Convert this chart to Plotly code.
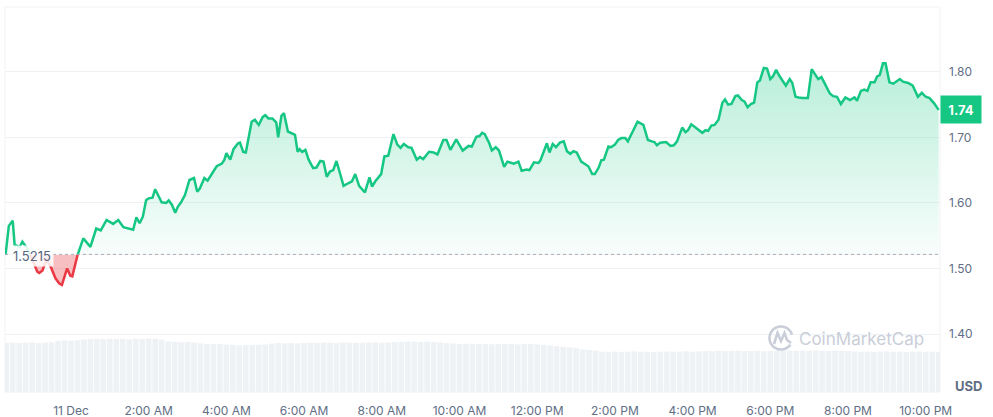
import math
import pandas as pd
import plotly.graph_objects as go

# ---------------- data ----------------
BASE = 1.5215  # opening (reference) price, dotted line

TIMES_DEC10 = ["22:19", "22:24", "22:30", "22:33", "22:41", "22:45", "22:54", "23:01", "23:08", "23:11",
               "23:16", "23:22", "23:29", "23:36", "23:42", "23:46", "23:51", "23:54", "23:59"]
TIMES_DEC11 = [
    "00:02", "00:10", "00:19", "00:30", "00:39", "00:46", "00:55", "01:05", "01:13", "01:21",
    "01:31", "01:36", "01:41", "01:46", "01:51", "01:56", "02:00", "02:06", "02:10", "02:20",
    "02:27", "02:31", "02:36", "02:41", "02:45", "02:50", "02:56", "03:03", "03:10", "03:15",
    "03:19", "03:26", "03:31", "03:37", "03:45", "03:53", "03:57", "04:00", "04:06", "04:11",
    "04:18", "04:21", "04:26", "04:30", "04:39", "04:44", "04:50", "04:56", "05:00", "05:05",
    "05:11", "05:17", "05:20", "05:25", "05:29", "05:35", "05:43", "05:46", "05:50", "05:53",
    "05:57", "06:02", "06:07", "06:14", "06:19", "06:25", "06:30", "06:35", "06:40", "06:45",
    "06:50", "07:01", "07:08", "07:14", "07:19", "07:25", "07:34", "07:41", "07:45", "07:50",
    "07:59", "08:04", "08:10", "08:18", "08:24", "08:29", "08:34", "08:41", "08:46", "08:54",
    "08:59", "09:04", "09:13", "09:20", "09:26", "09:35", "09:40", "09:46", "09:55", "10:05",
    "10:14", "10:19", "10:26", "10:31", "10:35", "10:39", "10:46", "10:50", "10:56", "11:01",
    "11:09", "11:14", "11:24", "11:31", "11:36", "11:44", "11:48", "11:55", "12:02", "12:05",
    "12:15", "12:19", "12:24", "12:29", "12:35", "12:41", "12:46", "12:51", "12:56", "13:01",
    "13:08", "13:19", "13:25", "13:29", "13:35", "13:39", "13:43", "13:50", "13:54", "14:00",
    "14:05", "14:10", "14:16", "14:20", "14:26", "14:35", "14:44", "14:51", "14:57", "15:01",
    "15:05", "15:10", "15:19", "15:26", "15:31", "15:36", "15:44", "15:49", "15:53", "15:58",
    "16:06", "16:15", "16:20", "16:24", "16:29", "16:34", "16:40", "16:46", "16:50", "16:55",
    "17:00", "17:06", "17:10", "17:16", "17:20", "17:25", "17:30", "17:35", "17:40", "17:44",
    "17:50", "17:55", "18:00", "18:04", "18:09", "18:14", "18:24", "18:30", "18:34", "18:39",
    "18:44", "18:50", "18:58", "19:04", "19:10", "19:14", "19:19", "19:26", "19:32", "19:37",
    "19:43", "19:49", "19:56", "20:03", "20:10", "20:14", "20:20", "20:25", "20:30", "20:35",
    "20:41", "20:45", "20:49", "20:54", "20:58", "21:04", "21:10", "21:20", "21:25", "21:33",
    "21:40", "21:48", "21:54", "22:00", "22:06", "22:13", "22:20"]

PRICES_DEC10 = [1.521, 1.565, 1.573, 1.536, 1.533, 1.541, 1.528, 1.510, 1.495, 1.493,
                1.497, 1.514, 1.502, 1.485, 1.477, 1.475, 1.490, 1.500, 1.489]
PRICES_DEC11 = [
    1.488, 1.520, 1.546, 1.533, 1.561, 1.558, 1.574, 1.568, 1.574, 1.563,
    1.561, 1.559, 1.578, 1.569, 1.579, 1.604, 1.607, 1.608, 1.621, 1.601,
    1.600, 1.604, 1.597, 1.585, 1.594, 1.601, 1.612, 1.635, 1.638, 1.617,
    1.622, 1.638, 1.634, 1.643, 1.656, 1.660, 1.666, 1.676, 1.666, 1.682,
    1.691, 1.692, 1.678, 1.677, 1.724, 1.727, 1.719, 1.731, 1.734, 1.729,
    1.729, 1.723, 1.700, 1.733, 1.737, 1.709, 1.706, 1.704, 1.678, 1.682,
    1.678, 1.681, 1.666, 1.653, 1.654, 1.664, 1.663, 1.640, 1.648, 1.650,
    1.664, 1.626, 1.630, 1.633, 1.644, 1.626, 1.616, 1.639, 1.625, 1.633,
    1.644, 1.671, 1.672, 1.705, 1.689, 1.684, 1.690, 1.685, 1.684, 1.666,
    1.670, 1.667, 1.678, 1.677, 1.674, 1.696, 1.696, 1.681, 1.697, 1.680,
    1.687, 1.686, 1.701, 1.702, 1.707, 1.705, 1.691, 1.680, 1.685, 1.680,
    1.655, 1.663, 1.660, 1.663, 1.649, 1.651, 1.650, 1.662, 1.661, 1.665,
    1.691, 1.677, 1.690, 1.685, 1.692, 1.694, 1.679, 1.675, 1.679, 1.677,
    1.663, 1.656, 1.644, 1.644, 1.654, 1.665, 1.666, 1.686, 1.685, 1.689,
    1.696, 1.699, 1.699, 1.694, 1.706, 1.724, 1.719, 1.696, 1.694, 1.693,
    1.688, 1.692, 1.693, 1.687, 1.688, 1.694, 1.715, 1.708, 1.711, 1.720,
    1.714, 1.707, 1.711, 1.710, 1.718, 1.719, 1.727, 1.753, 1.758, 1.750,
    1.751, 1.763, 1.764, 1.757, 1.755, 1.746, 1.751, 1.753, 1.784, 1.787,
    1.806, 1.805, 1.789, 1.793, 1.803, 1.794, 1.779, 1.789, 1.783, 1.762,
    1.761, 1.760, 1.760, 1.804, 1.795, 1.789, 1.792, 1.778, 1.767, 1.763,
    1.762, 1.751, 1.761, 1.757, 1.761, 1.756, 1.771, 1.773, 1.771, 1.784,
    1.784, 1.793, 1.795, 1.813, 1.813, 1.784, 1.782, 1.789, 1.785, 1.783,
    1.779, 1.762, 1.768, 1.762, 1.760, 1.752, 1.742]

VOL_START = "2024-12-10 22:20"
VOLUMES = [
    49.2, 49.5, 49.0, 49.3, 49.6, 49.1, 49.4, 49.8,
    51.0, 51.6, 51.3, 51.8,
    52.6, 52.9, 53.1, 52.8, 53.3, 53.0, 53.2, 52.7, 53.4, 53.1, 53.6, 53.3, 52.4,
    50.6, 50.2, 49.8, 50.1, 49.5,
    48.6, 48.1, 47.9, 48.2, 47.6,
    47.2, 46.8, 47.0, 46.9, 47.3, 47.6,
    48.4, 48.9, 48.6, 49.0, 48.7,
    49.1, 49.4, 49.2, 49.5, 49.3, 49.0, 49.6, 49.4, 49.1, 49.3, 49.5, 49.7, 49.2, 49.4, 49.9,
    50.2, 50.5, 50.3, 50.0, 50.4, 50.1, 49.6, 49.0,
    48.4, 48.1, 48.3, 47.9, 48.2, 48.0, 47.8, 48.1, 48.3, 48.0, 47.7, 47.9, 48.1, 47.6, 47.2, 46.6,
    45.8, 45.2, 44.7, 43.9,
    42.6, 42.0, 41.5,
    40.4, 40.2, 40.5, 40.1, 40.3, 40.6, 40.2, 40.4, 40.0, 40.3, 40.5, 40.2, 40.4, 40.7, 40.3, 40.6,
    41.0, 40.8, 41.2, 40.9, 41.1, 41.3, 40.9, 41.0, 41.2, 40.8, 41.1, 41.4,
    41.3, 41.5, 41.1, 41.4, 41.2, 41.6, 41.3, 41.0, 41.4, 41.2, 40.9,
    40.4, 40.2, 40.5, 40.1, 40.3, 40.6, 40.2, 40.4, 40.0, 40.3, 40.5, 40.2, 40.4, 40.1]

X_TICKS = ["2024-12-11 00:00", "2024-12-11 02:00", "2024-12-11 04:00", "2024-12-11 06:00",
           "2024-12-11 08:00", "2024-12-11 10:00", "2024-12-11 12:00", "2024-12-11 14:00",
           "2024-12-11 16:00", "2024-12-11 18:00", "2024-12-11 20:00", "2024-12-11 22:00"]
X_TICK_TEXT = ["11 Dec", "2:00 AM", "4:00 AM", "6:00 AM", "8:00 AM", "10:00 AM",
               "12:00 PM", "2:00 PM", "4:00 PM", "6:00 PM", "8:00 PM", "10:00 PM"]
Y_TICKS = [1.40, 1.50, 1.60, 1.70, 1.80]
Y_TICK_TEXT = ["1.40", "1.50", "1.60", "1.70", "1.80"]

X_RANGE = ["2024-12-10 22:18:06", "2024-12-11 22:22:06"]
Y_RANGE = [1.3115, 1.899]
VOL_RANGE = [0, 385]

# ---------------- build ----------------
TIMES = ["2024-12-10 " + t for t in TIMES_DEC10] + ["2024-12-11 " + t for t in TIMES_DEC11]
PRICES = PRICES_DEC10 + PRICES_DEC11
assert len(TIMES) == len(PRICES)
VOL_TIMES = pd.date_range(VOL_START, periods=len(VOLUMES), freq="10min")

W, H = 993, 417
ML, MR, MT, MB = 5, 53, 7, 25
PW, PH = W - ML - MR, H - MT - MB

GREEN = "#16c784"
RED = "#ea3943"
GRAY_TXT = "#616e85"
FONT = "Inter"

split = (BASE - Y_RANGE[0]) / (Y_RANGE[1] - Y_RANGE[0])

fig = go.Figure()

# volume bars
fig.add_trace(go.Bar(x=VOL_TIMES, y=VOLUMES, yaxis="y4", marker=dict(color="#eff2f5", line=dict(width=0)),
                     hoverinfo="skip", showlegend=False))
# invisible trace to anchor the main price axis
fig.add_trace(go.Scatter(x=TIMES, y=PRICES, mode="lines", line=dict(width=0, color="rgba(0,0,0,0)"),
                         hoverinfo="skip", showlegend=False))
# red part (clipped below baseline)
fig.add_trace(go.Scatter(x=TIMES, y=[BASE] * len(TIMES), yaxis="y2", mode="lines",
                         line=dict(width=0, color="rgba(0,0,0,0)"), hoverinfo="skip", showlegend=False))
fig.add_trace(go.Scatter(x=TIMES, y=PRICES, yaxis="y2", mode="lines", fill="tonexty",
                         fillcolor="rgba(234,57,67,0.32)", line=dict(color=RED, width=2.5),
                         hoverinfo="skip", showlegend=False))
# green part (clipped above baseline)
fig.add_trace(go.Scatter(x=TIMES, y=PRICES, yaxis="y3", mode="lines", fill="tozeroy",
                         fillgradient=dict(type="vertical", start=BASE, stop=max(PRICES),
                                           colorscale=[[0, "rgba(22,199,132,0.03)"],
                                                       [1, "rgba(22,199,132,0.30)"]]),
                         line=dict(color=GREEN, width=2.5), hoverinfo="skip", showlegend=False))


def pp(x, y):
    """pixel -> paper coordinates"""
    return (x - ML) / PW, (H - MB - y) / PH


shapes = [
    dict(type="rect", xref="paper", yref="paper", x0=0, x1=1, y0=0, y1=1,
         line=dict(color="#eff2f5", width=1), layer="below"),
    dict(type="line", xref="paper", yref="y", x0=0, x1=1, y0=BASE, y1=BASE,
         line=dict(color="#a6adbd", width=1, dash="dot")),
]

# CoinMarketCap watermark logo (open circle + M wave)
cx, cy, r = 781, 338, 11.5
pts = []
for k in range(0, 41):
    ang = math.radians(-35 - k * 7.7)
    pts.append(pp(cx + r * math.cos(ang), cy - r * math.sin(ang)))
path = "M " + " L ".join(f"{a:.5f},{b:.5f}" for a, b in pts)
shapes.append(dict(type="path", xref="paper", yref="paper", path=path,
                   line=dict(color="#c9ced8", width=2.6)))
wave = [pp(774, 344), pp(777.5, 333), pp(781, 341), pp(784.5, 333), pp(787, 340), pp(791, 343)]
shapes.append(dict(type="path", xref="paper", yref="paper",
                   path="M " + " L ".join(f"{a:.5f},{b:.5f}" for a, b in wave),
                   line=dict(color="#c9ced8", width=2.6)))

wx, wy = pp(861, 339)
ux, uy = pp(968, 386)
annotations = [
    dict(xref="paper", yref="y", x=0, y=BASE, xanchor="left", yanchor="middle", xshift=5, yshift=-2,
         text="1.5215", showarrow=False, font=dict(family=FONT, size=13, color="#58667e"),
         bgcolor="rgba(255,255,255,0.85)", borderpad=2),
    dict(xref="paper", yref="y", x=1, y=PRICES[-1], xanchor="left", yanchor="middle",
         text="<b>1.74</b>", showarrow=False, font=dict(family=FONT, size=13, color="white"),
         bgcolor=GREEN, width=30, height=17, borderpad=5),
    dict(xref="paper", yref="paper", x=ux, y=uy, xanchor="center", yanchor="middle",
         text="<b>USD</b>", showarrow=False, font=dict(family=FONT, size=13, color=GRAY_TXT)),
    dict(xref="paper", yref="paper", x=wx, y=wy, xanchor="center", yanchor="middle",
         text="CoinMarketCap", showarrow=False, font=dict(family=FONT, size=17, color="#c9ced8")),
]

fig.update_layout(
    width=W, height=H,
    margin=dict(l=ML, r=MR, t=MT, b=MB, autoexpand=False),
    paper_bgcolor="white", plot_bgcolor="rgba(0,0,0,0)",
    showlegend=False, hovermode=False, bargap=0.12,
    font=dict(family=FONT, size=12, color=GRAY_TXT),
    xaxis=dict(type="date", range=X_RANGE, tickvals=X_TICKS, ticktext=X_TICK_TEXT,
               showgrid=False, zeroline=False, showline=False, ticks="", automargin=False,
               ticklabelstandoff=10, tickfont=dict(family=FONT, size=12, color=GRAY_TXT),
               fixedrange=True),
    yaxis=dict(domain=[0, 1], range=Y_RANGE, side="right", tickvals=Y_TICKS, ticktext=Y_TICK_TEXT,
               showgrid=True, gridcolor="#eff2f5", gridwidth=1, zeroline=False, showline=False,
               ticks="", ticklabelstandoff=8, automargin=False,
               tickfont=dict(family=FONT, size=12, color=GRAY_TXT), fixedrange=True),
    yaxis2=dict(domain=[0, split], range=[Y_RANGE[0], BASE], anchor="x", visible=False,
                automargin=False, fixedrange=True),
    yaxis3=dict(domain=[split, 1], range=[BASE, Y_RANGE[1]], anchor="x", visible=False,
                automargin=False, fixedrange=True),
    yaxis4=dict(overlaying="y", range=VOL_RANGE, visible=False, automargin=False, fixedrange=True),
    shapes=shapes,
    annotations=annotations,
)

fig.write_html("out.html", config={"displayModeBar": False},
               post_script="document.body.style.margin='0';document.body.style.overflow='hidden';")
